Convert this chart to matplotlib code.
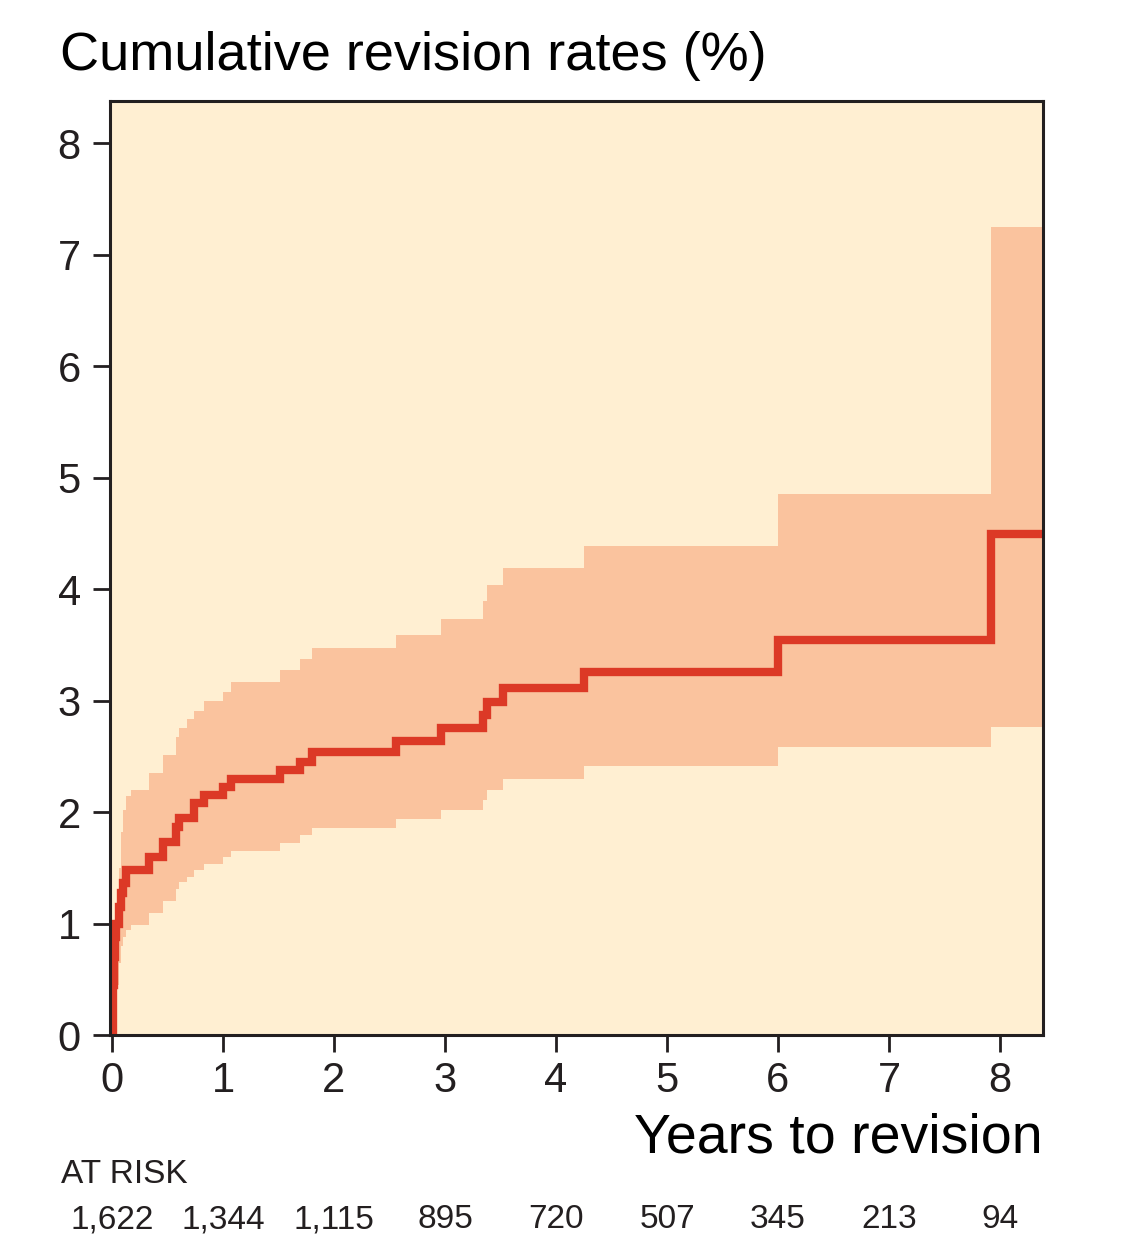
import matplotlib.pyplot as plt
from matplotlib.transforms import blended_transform_factory

# step times (years) and cumulative revision (%)
times = [0, 0.01, 0.02, 0.03, 0.04, 0.06, 0.08, 0.10, 0.13, 0.17, 0.33, 0.46,
         0.58, 0.60, 0.68, 0.74, 0.83, 1.00, 1.07, 1.51, 1.69, 1.80, 2.56,
         2.96, 3.34, 3.38, 3.52, 4.25, 6.00, 7.92, 8.39]
estimate = [0, 0.45, 0.70, 0.88, 1.00, 1.15, 1.27, 1.36, 1.48, 1.48, 1.60, 1.73,
            1.87, 1.95, 1.95, 2.08, 2.15, 2.22, 2.30, 2.38, 2.45, 2.54, 2.64,
            2.75, 2.87, 2.99, 3.11, 3.26, 3.54, 4.49, 4.49]
upper = [0, 0.40, 0.65, 0.85, 1.10, 1.50, 1.82, 2.02, 2.14, 2.20, 2.35, 2.51,
         2.67, 2.75, 2.83, 2.91, 3.00, 3.08, 3.17, 3.27, 3.37, 3.47, 3.59,
         3.73, 3.89, 4.04, 4.19, 4.39, 4.85, 7.25, 7.25]
lower = [0, 0.00, 0.10, 0.25, 0.45, 0.65, 0.80, 0.88, 0.94, 0.99, 1.09, 1.20,
         1.31, 1.37, 1.42, 1.48, 1.53, 1.60, 1.65, 1.72, 1.79, 1.86, 1.94,
         2.02, 2.11, 2.20, 2.30, 2.41, 2.58, 2.76, 2.76]

risk_years = [0, 1, 2, 3, 4, 5, 6, 7, 8]
at_risk = ["1,622", "1,344", "1,115", "895", "720", "507", "345", "213", "94"]

CREAM = "#FFEFD2"
BAND = "#FAC39E"
LINE = "#DC3926"
INK = "#231F20"

plt.rcParams["font.family"] = ["Liberation Sans", "DejaVu Sans"]

fig = plt.figure(figsize=(11.35, 12.47), dpi=100)
fig.patch.set_facecolor("white")
ax = fig.add_axes([0.0969, 0.170, 0.822, 0.749])
ax.set_facecolor(CREAM)

ax.fill_between(times, lower, upper, step="post", color=BAND, linewidth=0)
ax.step(times, estimate, where="post", color=LINE, linewidth=6, solid_joinstyle="miter")

ax.set_xlim(-0.018, 8.387)
ax.set_ylim(0, 8.377)
ax.set_xticks(range(9))
ax.set_yticks(range(9))
for s in ax.spines.values():
    s.set_linewidth(2.2)
    s.set_color(INK)
ax.tick_params(axis="both", direction="out", length=12, width=2, color=INK,
               labelsize=30, labelcolor=INK)
ax.tick_params(axis="x", pad=7)
ax.tick_params(axis="y", pad=9)

fig.text(0.053, 0.955, "Cumulative revision rates (%)", fontsize=39, color="black",
         ha="left", va="center")
fig.text(0.919, 0.087, "Years to revision", fontsize=40, color="black",
         ha="right", va="center")

fig.text(0.054, 0.058, "AT RISK", fontsize=24, color=INK, ha="left", va="center")
trans = blended_transform_factory(ax.transData, fig.transFigure)
for yr, n in zip(risk_years, at_risk):
    ax.text(yr, 0.022, n, transform=trans, fontsize=24, color=INK,
            ha="center", va="center")

fig.savefig("out.png", dpi=100, facecolor="white")
